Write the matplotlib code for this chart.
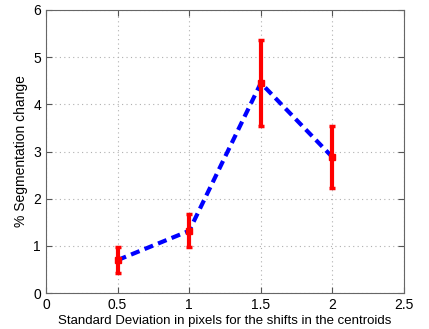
import matplotlib
matplotlib.use("Agg")
import matplotlib.pyplot as plt

# desvio padrao (pixels) e variacao percentual da segmentacao
desvio = [0.5, 1.0, 1.5, 2.0]
variacao = [0.70, 1.32, 4.45, 2.88]
erro = [0.28, 0.35, 0.92, 0.66]

plt.rcParams['font.family'] = ['Liberation Sans', 'DejaVu Sans']

fig = plt.figure(figsize=(4.29, 3.29), dpi=100)
ax = fig.add_axes([0.107, 0.109, 0.835, 0.861])

ax.plot(desvio, variacao, '--', color='blue', linewidth=3, dashes=(2.2, 1.3), zorder=2)
ax.errorbar(desvio, variacao, yerr=erro, fmt='s', color='red', ecolor='red',
            markersize=4.5, elinewidth=3, capsize=2.2, capthick=2.5, zorder=3)

ax.set_xlim(0, 2.5)
ax.set_ylim(0, 6)
ax.set_xticks([0, 0.5, 1, 1.5, 2, 2.5])
ax.set_xticklabels(['0', '0.5', '1', '1.5', '2', '2.5'])
ax.set_yticks([0, 1, 2, 3, 4, 5, 6])
ax.grid(True, linestyle=(0, (1, 3)), color='#b0b0b0', linewidth=0.8)
ax.tick_params(direction='in', top=True, right=True, labelsize=10, length=4, color='#555555')
for s in ax.spines.values():
    s.set_color('#666666')

ax.set_xlabel('Standard Deviation in pixels for the shifts in the centroids', fontsize=9.5, labelpad=2)
ax.set_ylabel('% Segmentation change', fontsize=10, labelpad=4)

fig.savefig('out.png', dpi=100)
